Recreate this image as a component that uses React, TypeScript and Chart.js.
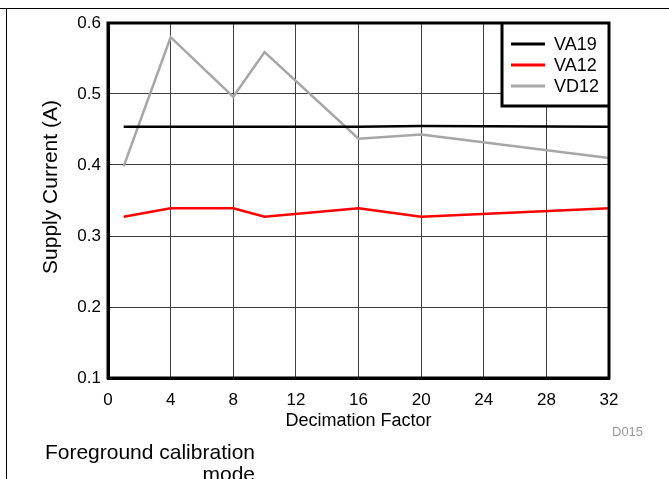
import React, { useEffect, useRef } from "react";
import { Chart, registerables } from "chart.js";

Chart.register(...registerables);

const decimation = [1, 4, 8, 10, 16, 20, 32];
const va19 = [0.454, 0.454, 0.454, 0.454, 0.454, 0.455, 0.454];
const va12 = [0.327, 0.339, 0.339, 0.327, 0.339, 0.327, 0.339];
const vd12 = [0.398, 0.58, 0.496, 0.559, 0.437, 0.443, 0.41];
const seriesNames = ["VA19", "VA12", "VD12"];
const seriesColors = ["#000000", "#ff0000", "#a6a6a6"];
const xTitle = "Decimation Factor";
const yTitle = "Supply Current (A)";

const FONT = "'Liberation Sans', Arial, sans-serif";

const frameAndLegend = {
  id: "frameAndLegend",
  afterDraw(chart: any) {
    const { ctx } = chart;
    ctx.save();
    ctx.translate(51, 187);
    ctx.rotate(-Math.PI / 2);
    ctx.font = `21px ${FONT}`;
    ctx.fillStyle = "#000";
    ctx.textAlign = "center";
    ctx.textBaseline = "middle";
    ctx.fillText(yTitle, 0, 0);
    ctx.restore();
  },
  afterDatasetsDraw(chart: any) {
    const { ctx, chartArea } = chart;
    const { top, right, left, bottom } = chartArea;
    const lw = 107;
    const lh = 83;
    const lx = right - lw;
    const ly = top;
    ctx.save();
    ctx.fillStyle = "#ffffff";
    ctx.fillRect(lx, ly, lw, lh);
    ctx.strokeStyle = "#000";
    ctx.lineWidth = 3;
    ctx.beginPath();
    ctx.moveTo(lx, ly);
    ctx.lineTo(lx, ly + lh);
    ctx.lineTo(right, ly + lh);
    ctx.stroke();
    ctx.font = `18px ${FONT}`;
    ctx.textBaseline = "middle";
    ctx.textAlign = "left";
    chart.data.datasets.forEach((ds: any, i: number) => {
      const cy = ly + 21 + i * 21;
      ctx.strokeStyle = ds.borderColor;
      ctx.lineWidth = 3;
      ctx.beginPath();
      ctx.moveTo(lx + 9, cy);
      ctx.lineTo(lx + 43, cy);
      ctx.stroke();
      ctx.fillStyle = "#000";
      ctx.fillText(ds.label, lx + 52, cy + 1);
    });
    ctx.strokeStyle = "#000";
    ctx.lineWidth = 3;
    ctx.strokeRect(left, top, right - left, bottom - top);
    ctx.restore();
  },
};

export default function App() {
  const ref = useRef<HTMLCanvasElement | null>(null);
  useEffect(() => {
    if (!ref.current) return;
    const datasets = [va19, va12, vd12].map((vals, i) => ({
      label: seriesNames[i],
      data: vals.map((v, j) => ({ x: decimation[j], y: v })),
      borderColor: seriesColors[i],
      backgroundColor: seriesColors[i],
      borderWidth: 2.5,
      pointRadius: 0,
      tension: 0,
      fill: false,
    }));
    const chart = new Chart(ref.current, {
      type: "line",
      data: { datasets },
      options: {
        animation: false,
        responsive: false,
        devicePixelRatio: 1,
        layout: { padding: { left: 0, top: 23, right: 60, bottom: 41 } },
        plugins: { legend: { display: false }, tooltip: { enabled: false } },
        scales: {
          x: {
            type: "linear",
            min: 0,
            max: 32,
            ticks: {
              stepSize: 4,
              color: "#000",
              font: { family: FONT, size: 17 },
              padding: 12,
              maxRotation: 0,
            },
            grid: { color: "#404040", lineWidth: 1, drawTicks: false },
            border: { color: "#000", width: 3 },
            title: {
              display: true,
              text: xTitle,
              color: "#000",
              font: { family: FONT, size: 18 },
              padding: { top: 0, bottom: 6 },
            },
            afterFit: (s: any) => {
              s.height = 60;
            },
          },
          y: {
            min: 0.1,
            max: 0.6,
            ticks: {
              stepSize: 0.1,
              color: "#000",
              font: { family: FONT, size: 17 },
              padding: 7,
              callback: (v: any) => Number(v).toFixed(1),
            },
            grid: { color: "#404040", lineWidth: 1, drawTicks: false },
            border: { color: "#000", width: 3 },
            title: { display: false },
            afterFit: (s: any) => {
              s.width = 108;
            },
          },
        },
      },
      plugins: [frameAndLegend],
    });
    return () => chart.destroy();
  }, []);

  return (
    <div
      style={{
        position: "absolute",
        left: 0,
        top: 0,
        width: 669,
        height: 479,
        overflow: "hidden",
        background: "#fff",
        fontFamily: FONT,
      }}
    >
      <canvas ref={ref} width={669} height={479} style={{ position: "absolute", left: 0, top: 0 }} />
      <div style={{ position: "absolute", left: 0, top: 8, width: 669, height: 1, background: "#000" }} />
      <div style={{ position: "absolute", left: 6, top: 8, width: 1, height: 471, background: "#000" }} />
      <div
        style={{
          position: "absolute",
          left: 612,
          top: 425,
          fontSize: 13,
          lineHeight: "13px",
          color: "#999",
        }}
      >
        D015
      </div>
      <div
        style={{
          position: "absolute",
          left: 15,
          top: 441,
          width: 240,
          fontSize: 21,
          lineHeight: "22px",
          textAlign: "right",
          color: "#000",
        }}
      >
        Foreground calibration
        <br />
        mode
      </div>
    </div>
  );
}
